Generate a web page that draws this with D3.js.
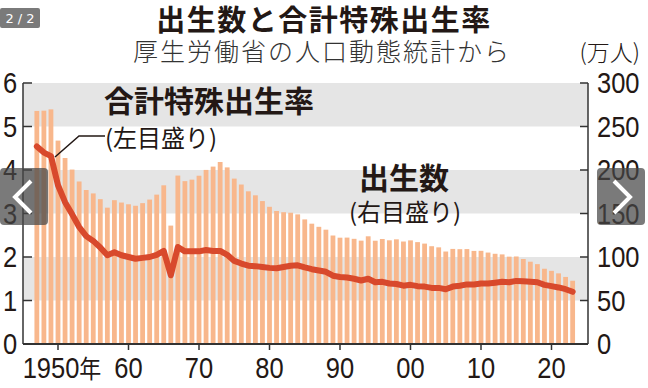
<!DOCTYPE html>
<html lang="ja">
<head>
  <meta charset="UTF-8">
  <title>出生数と合計特殊出生率</title>
  <script src="https://cdn.jsdelivr.net/npm/d3@7"></script>
  <style>
    body { margin: 0; padding: 0; background: #fff; }
    svg { display: block; }
    .jp { font-family: "Noto Sans CJK JP", "Noto Sans", sans-serif; fill: #231815; }
    .num { font-family: "Liberation Sans Narrow", "Liberation Sans", Arial, sans-serif; fill: #231815; }
  </style>
</head>
<body>
<div id="chart"></div>
<script>
// data: 1947-2023
var years = d3.range(1947, 2024);
// births, 万人 (right scale)
var births = [267.9, 268.2, 269.7, 233.8, 213.8, 200.5, 186.8, 177.0, 173.1, 166.5,
              156.7, 165.3, 162.6, 160.6, 158.9, 161.9, 166.0, 171.7, 182.4, 136.1,
              193.6, 187.2, 188.9, 193.4, 200.1, 203.9, 209.2, 203.0, 190.1, 183.3,
              175.5, 170.9, 164.3, 157.7, 152.9, 151.5, 150.9, 149.0, 143.2, 138.3,
              134.7, 131.4, 124.7, 122.2, 122.3, 120.9, 118.8, 123.8, 118.7, 120.7,
              119.2, 120.3, 117.8, 119.1, 117.1, 115.4, 112.4, 111.1, 106.3, 109.3,
              109.0, 109.1, 107.0, 107.1, 105.1, 103.7, 103.0, 100.4, 100.6, 97.7,
              94.6, 91.8, 86.5, 84.1, 81.2, 77.1, 72.7];
// total fertility rate (left scale)
var tfr = [4.54, 4.40, 4.32, 3.65, 3.26, 2.98, 2.69, 2.48, 2.37, 2.22,
           2.04, 2.11, 2.04, 2.00, 1.96, 1.98, 2.00, 2.05, 2.14, 1.58,
           2.23, 2.13, 2.13, 2.13, 2.16, 2.14, 2.14, 2.05, 1.91, 1.85,
           1.80, 1.79, 1.77, 1.75, 1.74, 1.77, 1.80, 1.81, 1.76, 1.72,
           1.69, 1.66, 1.57, 1.54, 1.53, 1.50, 1.46, 1.50, 1.42, 1.43,
           1.39, 1.38, 1.34, 1.36, 1.33, 1.32, 1.29, 1.29, 1.26, 1.32,
           1.34, 1.37, 1.37, 1.39, 1.39, 1.41, 1.43, 1.42, 1.45, 1.44,
           1.43, 1.42, 1.36, 1.33, 1.30, 1.26, 1.20];

var leftTicks = [0, 1, 2, 3, 4, 5, 6];
var rightTicks = [0, 50, 100, 150, 200, 250, 300];
var yearTicks = [1950, 1960, 1970, 1980, 1990, 2000, 2010, 2020];
var yearLabels = ["1950年", "60", "70", "80", "90", "00", "10", "20"];
var bands = [[5, 6], [3, 4], [1, 2]];

var W = 648, H = 388;
var pLeft = 23, pRight = 588, pTop = 83, pBottom = 344;
var sx = 0.88; // narrow digits

var svg = d3.select("#chart").append("svg")
    .attr("width", W).attr("height", H);

var x = d3.scaleLinear().domain([1950, 2020]).range([58, 551.5]);
var yL = d3.scaleLinear().domain([0, 6]).range([pBottom, pTop]);
var yR = d3.scaleLinear().domain([0, 300]).range([pBottom, pTop]);

// gray bands
svg.selectAll("rect.band").data(bands).enter().append("rect")
    .attr("class", "band")
    .attr("x", pLeft).attr("width", pRight - pLeft)
    .attr("y", function(d) { return yL(d[1]); })
    .attr("height", function(d) { return yL(d[0]) - yL(d[1]); })
    .attr("fill", "#e5e5e5");

// bars
var bw = 4.8;
svg.selectAll("rect.bar").data(births).enter().append("rect")
    .attr("class", "bar")
    .attr("x", function(d, i) { return x(years[i]) - bw / 2; })
    .attr("width", bw)
    .attr("y", function(d) { return yR(d); })
    .attr("height", function(d) { return pBottom - yR(d); })
    .attr("fill", "#f8b78c");

// tfr line
var line = d3.line()
    .x(function(d, i) { return x(years[i]); })
    .y(function(d) { return yL(d); });
svg.append("path").datum(tfr)
    .attr("d", line)
    .attr("fill", "none")
    .attr("stroke", "#d8492c")
    .attr("stroke-width", 6)
    .attr("stroke-linejoin", "round")
    .attr("stroke-linecap", "round");

// axes
var axisCol = "#333";
svg.append("line").attr("x1", pLeft).attr("x2", pLeft).attr("y1", pTop).attr("y2", pBottom)
    .attr("stroke", axisCol).attr("stroke-width", 1.5);
svg.append("line").attr("x1", pRight).attr("x2", pRight).attr("y1", pTop).attr("y2", pBottom)
    .attr("stroke", axisCol).attr("stroke-width", 1.5);
svg.append("line").attr("x1", pLeft).attr("x2", pRight).attr("y1", pBottom).attr("y2", pBottom)
    .attr("stroke", axisCol).attr("stroke-width", 2);

svg.selectAll("line.lt").data(leftTicks).enter().append("line")
    .attr("class", "lt")
    .attr("x1", pLeft).attr("x2", pLeft + 9)
    .attr("y1", function(d) { return yL(d); }).attr("y2", function(d) { return yL(d); })
    .attr("stroke", axisCol).attr("stroke-width", 1.5);
svg.selectAll("text.lt").data(leftTicks).enter().append("text")
    .attr("class", "num lt")
    .attr("transform", function(d) { return "translate(10," + (yL(d) + 10) + ") scale(" + sx + ",1)"; })
    .attr("text-anchor", "middle")
    .attr("font-size", 29)
    .text(function(d) { return d; });

svg.selectAll("line.rt").data(rightTicks).enter().append("line")
    .attr("class", "rt")
    .attr("x1", pRight - 8).attr("x2", pRight)
    .attr("y1", function(d) { return yR(d); }).attr("y2", function(d) { return yR(d); })
    .attr("stroke", axisCol).attr("stroke-width", 1.5);
svg.selectAll("text.rt").data(rightTicks).enter().append("text")
    .attr("class", "num rt")
    .attr("transform", function(d) { return "translate(597," + (yR(d) + 10) + ") scale(" + sx + ",1)"; })
    .attr("font-size", 29)
    .text(function(d) { return d; });

svg.selectAll("line.xt").data(yearTicks).enter().append("line")
    .attr("class", "xt")
    .attr("x1", function(d) { return x(d); }).attr("x2", function(d) { return x(d); })
    .attr("y1", pBottom).attr("y2", pBottom + 6)
    .attr("stroke", axisCol).attr("stroke-width", 1.5);
svg.selectAll("text.xt").data(yearTicks).enter().append("text")
    .attr("class", "num xt")
    .attr("transform", function(d, i) {
      return "translate(" + (x(d) + (i === 0 ? 4 : 0)) + ",378) scale(" + sx + ",1)";
    })
    .attr("text-anchor", "middle")
    .attr("font-size", 29)
    .each(function(d, i) {
      var t = d3.select(this);
      var lab = yearLabels[i];
      if (lab.indexOf("年") >= 0) {
        t.append("tspan").text(lab.replace("年", ""));
        t.append("tspan").attr("font-size", 25)
          .style("font-family", '"Noto Sans CJK JP", sans-serif').text("年");
      } else {
        t.text(lab);
      }
    });

// titles
svg.append("text").attr("class", "jp")
    .attr("x", 324).attr("y", 31)
    .attr("text-anchor", "middle")
    .attr("font-size", 29).attr("font-weight", "bold")
    .attr("letter-spacing", 1.5)
    .text("出生数と合計特殊出生率");
svg.append("text").attr("class", "jp")
    .attr("x", 322).attr("y", 61)
    .attr("text-anchor", "middle")
    .attr("font-size", 25).attr("font-weight", 300)
    .attr("letter-spacing", 2)
    .style("fill", "#333")
    .text("厚生労働省の人口動態統計から");
svg.append("text").attr("class", "jp")
    .attr("x", 640).attr("y", 61)
    .attr("text-anchor", "end")
    .attr("font-size", 23).attr("font-weight", 300)
    .text("(万人)");

// annotations
svg.append("text").attr("class", "jp")
    .attr("x", 104).attr("y", 112)
    .attr("font-size", 30).attr("font-weight", "bold")
    .text("合計特殊出生率");
svg.append("text").attr("class", "jp")
    .attr("x", 105).attr("y", 147)
    .attr("font-size", 24)
    .text("(左目盛り)");
svg.append("path")
    .attr("d", "M105,136 L79,136 L55,157")
    .attr("fill", "none").attr("stroke", "#231815").attr("stroke-width", 1.5);

svg.append("text").attr("class", "jp")
    .attr("x", 404).attr("y", 189)
    .attr("text-anchor", "middle")
    .attr("font-size", 30).attr("font-weight", "bold")
    .text("出生数");
svg.append("text").attr("class", "jp")
    .attr("x", 405).attr("y", 221)
    .attr("text-anchor", "middle")
    .attr("font-size", 24)
    .text("(右目盛り)");

// viewer overlay (page badge and arrows)
svg.append("rect").attr("x", 0).attr("y", 8).attr("width", 40).attr("height", 20)
    .attr("rx", 2).attr("fill", "#7a7a7a");
svg.append("text").attr("x", 20).attr("y", 23).attr("text-anchor", "middle")
    .attr("font-family", "DejaVu Sans, sans-serif").attr("font-size", 13)
    .attr("fill", "#fff").text("2 / 2");

var arrows = [{x: 0, dir: -1}, {x: 597, dir: 1}];
svg.selectAll("rect.nav").data(arrows).enter().append("rect")
    .attr("class", "nav")
    .attr("x", function(d) { return d.x; }).attr("y", 168)
    .attr("width", 48).attr("height", 57).attr("rx", 4)
    .attr("fill", "rgba(70,70,70,0.72)");
svg.selectAll("path.nav").data(arrows).enter().append("path")
    .attr("class", "nav")
    .attr("d", function(d) {
      var cx = d.x + 24;
      return d.dir < 0
        ? "M" + (cx + 7) + ",181 L" + (cx - 9) + ",197 L" + (cx + 7) + ",213"
        : "M" + (cx - 7) + ",181 L" + (cx + 9) + ",197 L" + (cx - 7) + ",213";
    })
    .attr("fill", "none").attr("stroke", "#fff").attr("stroke-width", 4);
</script>
</body>
</html>
